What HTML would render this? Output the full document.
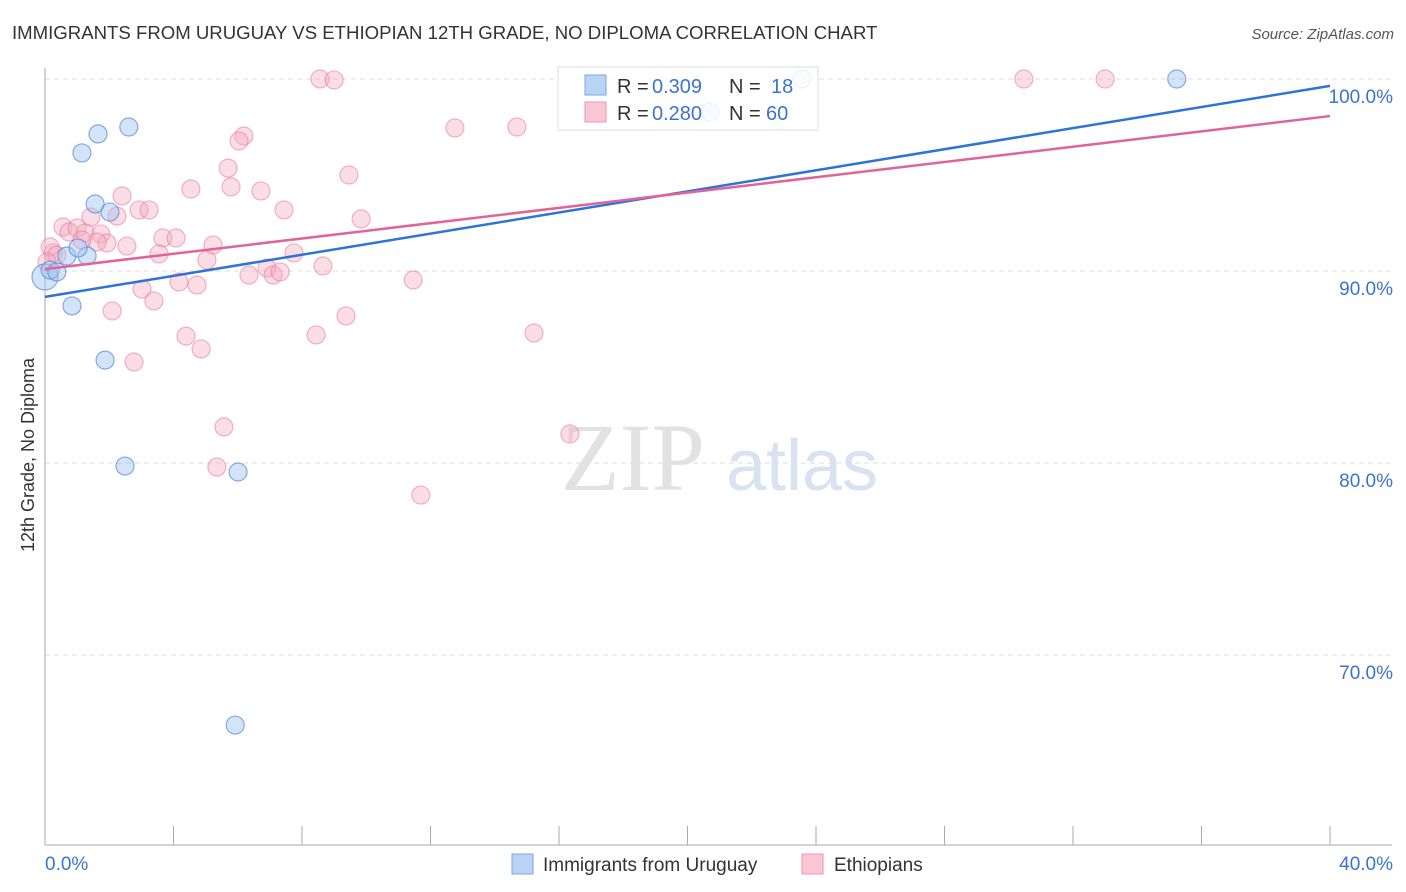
<!DOCTYPE html>
<html><head><meta charset="utf-8">
<style>
body{margin:0;background:#fff;font-family:"Liberation Sans",sans-serif;}
#wrap{position:relative;width:1406px;height:892px;overflow:hidden;}
</style></head>
<body><div id="wrap">
<svg id="svg" width="1406" height="892" xmlns="http://www.w3.org/2000/svg">
<text x="12" y="39" font-size="18.6" fill="#333">IMMIGRANTS FROM URUGUAY VS ETHIOPIAN 12TH GRADE, NO DIPLOMA CORRELATION CHART</text>
<text x="1394" y="39" font-size="15" fill="#555" font-style="italic" text-anchor="end">Source: ZipAtlas.com</text>
<text x="34" y="455" font-size="18" fill="#333" text-anchor="middle" transform="rotate(-90 34 455)">12th Grade, No Diploma</text>
<g><text x="633" y="490" font-size="96" font-family="Liberation Serif,serif" fill="#e2e2e2" text-anchor="middle">ZIP</text><text x="802" y="490" font-size="72" fill="#d8e3f2" text-anchor="middle">atlas</text></g>
<g id="grid"></g><g id="axes"></g><g id="pts"></g><g id="lines"></g>
<g>
<rect x="558" y="67" width="260" height="63" fill="rgba(255,255,255,0.85)" stroke="#ddd"/>
<rect x="585" y="75" width="21" height="20" fill="#b9d3f5" stroke="#7aa6e8"/>
<rect x="585" y="102" width="21" height="20" fill="#f9c6d4" stroke="#ef94ae"/>
<text x="617" y="93" font-size="20" fill="#333">R =</text><text x="652" y="93" font-size="20" fill="#3a74d0">0.309</text>
<text x="729" y="93" font-size="20" fill="#333">N =</text><text x="771" y="93" font-size="20" fill="#3a74d0">18</text>
<text x="617" y="120" font-size="20" fill="#333">R =</text><text x="652" y="120" font-size="20" fill="#3a74d0">0.280</text>
<text x="729" y="120" font-size="20" fill="#333">N =</text><text x="766" y="120" font-size="20" fill="#3a74d0">60</text>
</g>
<g>
<rect x="512" y="854" width="21" height="20" fill="#b9d3f5" stroke="#7aa6e8"/>
<text x="543" y="871" font-size="19" fill="#333">Immigrants from Uruguay</text>
<rect x="802" y="854" width="21" height="20" fill="#f9c6d4" stroke="#ef94ae"/>
<text x="834" y="871" font-size="19" fill="#333">Ethiopians</text>
</g>
</svg></div>
<script>
const yTicks=[100,90,80,70];
const yTickLabels=["100.0%","90.0%","80.0%","70.0%"];
const xLabels=["0.0%","40.0%"];
const blueX=[0.0,0.16,0.37,0.68,1.31,0.84,1.15,1.65,2.61,1.56,2.02,1.87,2.49,6.01,5.92,23.56,35.23,20.7,1.03];
const blueY=[89.69,90.05,89.95,90.78,90.78,88.18,96.15,97.14,97.5,93.49,93.07,85.36,79.84,79.53,66.35,100,100,98.28,91.2];
const pinkPx=[[320,79],[334,80],[244,136],[239,141],[228,168],[231,187],[191,189],[261,191],[349,175],[122,196],[284,210],[139,210],[149,210],[361,219],[91,217],[117,216],[63,227],[69,232],[77,228],[85,233],[101,234],[107,243],[97,242],[127,246],[163,238],[176,238],[213,245],[159,254],[207,260],[294,253],[323,266],[267,268],[273,275],[280,272],[249,275],[179,282],[197,285],[142,289],[154,301],[112,311],[346,316],[316,335],[186,336],[201,349],[134,362],[413,280],[53,253],[50,247],[455,128],[517,127],[1024,79],[1105,79],[534,333],[570,434],[421,495],[224,427],[217,467],[57,255],[47,262],[82,240]];
const pinkX=pinkPx.map(p=>+((p[0]-45)*40/1285).toFixed(2));
const pinkY=pinkPx.map(p=>+(100-(p[1]-79)/19.2).toFixed(2));
const blueLine=[88.65,99.64];
const pinkLine=[90.1,98.07];
const X0=45,X1=1330,Yb=845;
const sx=v=>X0+v/40*(X1-X0);
const sy=v=>79+(100-v)*19.2;
const NS="http://www.w3.org/2000/svg";
function mk(t,a,p){const e=document.createElementNS(NS,t);for(const k in a)e.setAttribute(k,a[k]);p.appendChild(e);return e;}
const grid=document.getElementById('grid'),axes=document.getElementById('axes'),pts=document.getElementById('pts'),lines=document.getElementById('lines');
yTicks.forEach((t,i)=>{
 const l=mk('line',{x1:X0,x2:1392,y1:sy(t),y2:sy(t),stroke:'#ddd','stroke-dasharray':'5,4'},grid);
 
 
 const tx=mk('text',{x:1393,y:sy(t)+24,'font-size':19,fill:'#3a74d0','text-anchor':'end'},axes);
 tx.textContent=yTickLabels[i];
 
 
});
const ya=mk('line',{x1:X0,x2:X0,y1:68,y2:Yb,stroke:'#aaa'},axes);


const xa=mk('line',{x1:X0,x2:1392,y1:Yb,y2:Yb,stroke:'#aaa'},axes);


for(let k=1;k<=10;k++){const x=sx(k*4);const t=mk('line',{x1:x,x2:x,y1:826,y2:Yb,stroke:'#aaa'},axes);
 
 }
[[0,'start',45],[40,'end',1393]].forEach((d,i)=>{const t=mk('text',{x:d[2],y:870,'font-size':19,fill:'#3a74d0','text-anchor':d[1]},axes);t.textContent=xLabels[i];
 
 });
pinkX.forEach((x,i)=>{const c=mk('circle',{cx:sx(x),cy:sy(pinkY[i]),r:9,fill:'rgba(246,170,193,0.4)',stroke:'rgba(232,120,155,0.55)','stroke-width':1.2},pts);
 
 });
blueX.forEach((x,i)=>{const c=mk('circle',{cx:sx(x),cy:sy(blueY[i]),r:i==0?13:9,fill:'rgba(160,195,240,0.45)',stroke:'rgba(70,130,215,0.65)','stroke-width':1.2},pts);
 
 });
const bl=mk('line',{x1:sx(0),y1:sy(blueLine[0]),x2:sx(40),y2:sy(blueLine[1]),stroke:'#2f72d8','stroke-width':2.5},lines);


const pl=mk('line',{x1:sx(0),y1:sy(pinkLine[0]),x2:sx(40),y2:sy(pinkLine[1]),stroke:'#e0649a','stroke-width':2.5},lines);


</script></body></html>
